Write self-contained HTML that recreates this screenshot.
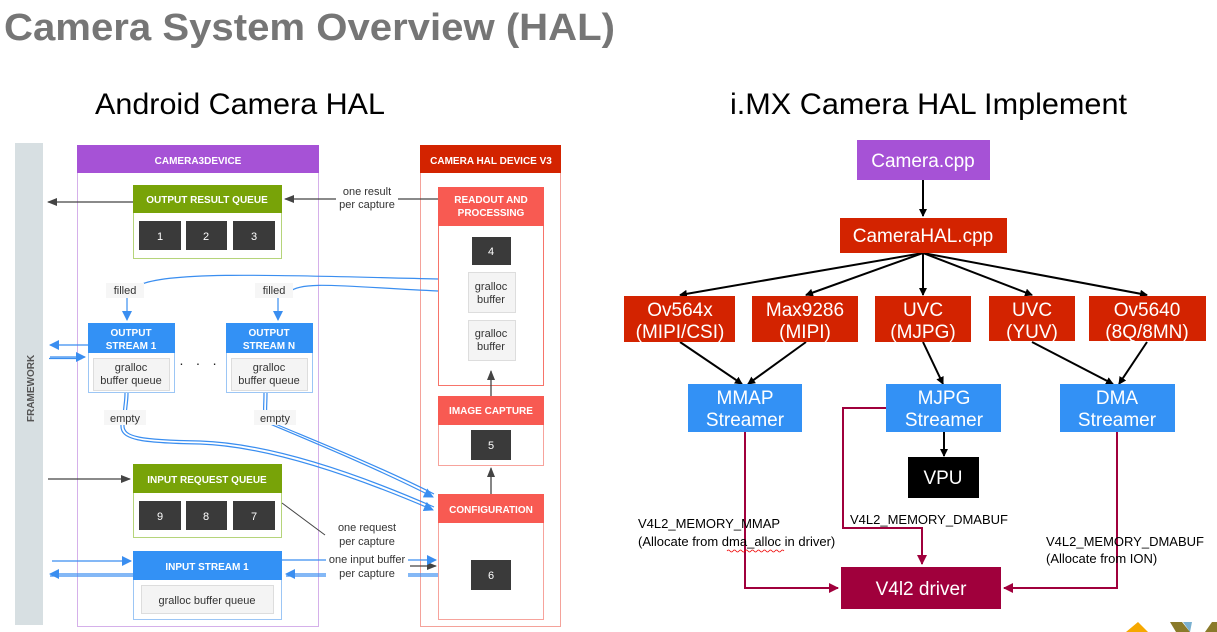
<!DOCTYPE html>
<html><head><meta charset="utf-8"><style>
html,body{margin:0;padding:0;background:#fff;}
svg{display:block;}
text{font-family:"Liberation Sans",sans-serif;}
</style></head><body>
<svg width="1217" height="632" viewBox="0 0 1217 632" xmlns="http://www.w3.org/2000/svg">
<defs>
<marker id="ak" markerWidth="8" markerHeight="8" refX="7" refY="4" orient="auto" markerUnits="userSpaceOnUse"><path d="M0,0 L8,4 L0,8 z" fill="#000"/></marker>
<marker id="ag" markerWidth="10" markerHeight="8" refX="9" refY="4" orient="auto" markerUnits="userSpaceOnUse"><path d="M0,0 L10,4 L0,8 z" fill="#444"/></marker>
<marker id="ab" markerWidth="10" markerHeight="10" refX="9" refY="5" orient="auto" markerUnits="userSpaceOnUse"><path d="M0,0 L10,5 L0,10 z" fill="#3a8ef0"/></marker>
<marker id="am" markerWidth="10" markerHeight="10" refX="9" refY="5" orient="auto" markerUnits="userSpaceOnUse"><path d="M0,0 L10,5 L0,10 z" fill="#a0003c"/></marker>
</defs>

<text x="4" y="40" font-size="38" font-weight="bold" fill="#767676" textLength="611" lengthAdjust="spacingAndGlyphs">Camera System Overview (HAL)</text>
<text x="95" y="114" font-size="30" fill="#000" textLength="290" lengthAdjust="spacingAndGlyphs">Android Camera HAL</text>
<text x="730" y="114" font-size="30" fill="#000" textLength="397" lengthAdjust="spacingAndGlyphs">i.MX Camera HAL Implement</text>

<!-- LEFT DIAGRAM -->
<rect x="15" y="143" width="28" height="482" fill="#d7dfe2"/>
<text transform="translate(34,422) rotate(-90)" font-size="10" font-weight="bold" fill="#555">FRAMEWORK</text>

<rect x="77.5" y="145.5" width="241" height="481" fill="none" stroke="#d5b0ea" stroke-width="1"/>
<rect x="77" y="145" width="242" height="28" fill="#a652d6"/>
<text x="198" y="164" font-size="10" font-weight="bold" fill="#fff" text-anchor="middle">CAMERA3DEVICE</text>

<rect x="420.5" y="145.5" width="140" height="481" fill="none" stroke="#f4a29a" stroke-width="1"/>
<rect x="420" y="145" width="141" height="28" fill="#d32300"/>
<text x="491" y="164" font-size="10" font-weight="bold" fill="#fff" text-anchor="middle">CAMERA HAL DEVICE V3</text>

<!-- Output result queue -->
<rect x="133.5" y="185.5" width="148" height="73" fill="#fff" stroke="#b5d47a"/>
<rect x="133" y="185" width="149" height="28" fill="#78a308"/>
<text x="207" y="203" font-size="10" font-weight="bold" fill="#fff" text-anchor="middle">OUTPUT RESULT QUEUE</text>
<rect x="139" y="221" width="42" height="29" fill="#3a3a3a"/><text x="160" y="240" font-size="11" fill="#fff" text-anchor="middle">1</text>
<rect x="186" y="221" width="41" height="29" fill="#3a3a3a"/><text x="206" y="240" font-size="11" fill="#fff" text-anchor="middle">2</text>
<rect x="233" y="221" width="42" height="29" fill="#3a3a3a"/><text x="254" y="240" font-size="11" fill="#fff" text-anchor="middle">3</text>

<!-- Readout -->
<rect x="438.5" y="187.5" width="105" height="198" fill="#fff" stroke="#f7746a"/>
<rect x="438" y="187" width="106" height="39" fill="#f85a52"/>
<text x="491" y="203" font-size="10" font-weight="bold" fill="#fff" text-anchor="middle">READOUT AND</text>
<text x="491" y="216" font-size="10" font-weight="bold" fill="#fff" text-anchor="middle">PROCESSING</text>
<rect x="472" y="237" width="39" height="28" fill="#3a3a3a"/><text x="491" y="255" font-size="11" fill="#fff" text-anchor="middle">4</text>
<rect x="468.5" y="272.5" width="47" height="40" fill="#f4f4f4" stroke="#ddd"/>
<text x="491" y="290" font-size="11" fill="#333" text-anchor="middle">gralloc</text><text x="491" y="303" font-size="11" fill="#333" text-anchor="middle">buffer</text>
<rect x="468.5" y="320.5" width="47" height="40" fill="#f4f4f4" stroke="#ddd"/>
<text x="491" y="337" font-size="11" fill="#333" text-anchor="middle">gralloc</text><text x="491" y="350" font-size="11" fill="#333" text-anchor="middle">buffer</text>

<!-- Image capture -->
<rect x="438.5" y="396.5" width="105" height="69" fill="#fff" stroke="#f7a39c"/>
<rect x="438" y="396" width="106" height="29" fill="#f85a52"/>
<text x="491" y="414" font-size="10" font-weight="bold" fill="#fff" text-anchor="middle">IMAGE CAPTURE</text>
<rect x="471" y="430" width="40" height="30" fill="#3a3a3a"/><text x="491" y="449" font-size="11" fill="#fff" text-anchor="middle">5</text>

<!-- Configuration -->
<rect x="438.5" y="494.5" width="105" height="125" fill="#fff" stroke="#f7a39c"/>
<rect x="438" y="494" width="106" height="29" fill="#f85a52"/>
<text x="491" y="513" font-size="10" font-weight="bold" fill="#fff" text-anchor="middle">CONFIGURATION</text>
<rect x="471" y="560" width="40" height="30" fill="#3a3a3a"/><text x="491" y="579" font-size="11" fill="#fff" text-anchor="middle">6</text>

<line x1="491" y1="494" x2="491" y2="468" stroke="#444" stroke-width="1.3" marker-end="url(#ag)"/>
<line x1="491" y1="396" x2="491" y2="371" stroke="#444" stroke-width="1.3" marker-end="url(#ag)"/>

<!-- Output streams -->
<rect x="88.5" y="323.5" width="86" height="69" fill="#fff" stroke="#9cc6f5"/>
<rect x="88" y="323" width="87" height="30" fill="#3391f5"/>
<text x="131" y="336" font-size="10" font-weight="bold" fill="#fff" text-anchor="middle">OUTPUT</text>
<text x="131" y="349" font-size="10" font-weight="bold" fill="#fff" text-anchor="middle">STREAM 1</text>
<rect x="93.5" y="358.5" width="76" height="32" fill="#f4f4f4" stroke="#ddd"/>
<text x="131" y="371" font-size="11" fill="#333" text-anchor="middle">gralloc</text><text x="131" y="384" font-size="11" fill="#333" text-anchor="middle">buffer queue</text>

<rect x="226.5" y="323.5" width="86" height="69" fill="#fff" stroke="#9cc6f5"/>
<rect x="226" y="323" width="87" height="30" fill="#3391f5"/>
<text x="269" y="336" font-size="10" font-weight="bold" fill="#fff" text-anchor="middle">OUTPUT</text>
<text x="269" y="349" font-size="10" font-weight="bold" fill="#fff" text-anchor="middle">STREAM N</text>
<rect x="231.5" y="358.5" width="76" height="32" fill="#f4f4f4" stroke="#ddd"/>
<text x="269" y="371" font-size="11" fill="#333" text-anchor="middle">gralloc</text><text x="269" y="384" font-size="11" fill="#333" text-anchor="middle">buffer queue</text>
<text x="200" y="368" font-size="14" fill="#222" text-anchor="middle" letter-spacing="4">· · ·</text>

<!-- Input request queue -->
<rect x="133.5" y="464.5" width="148" height="73" fill="#fff" stroke="#b5d47a"/>
<rect x="133" y="464" width="149" height="29" fill="#78a308"/>
<text x="207" y="483" font-size="10" font-weight="bold" fill="#fff" text-anchor="middle">INPUT REQUEST QUEUE</text>
<rect x="139" y="501" width="42" height="29" fill="#3a3a3a"/><text x="160" y="520" font-size="11" fill="#fff" text-anchor="middle">9</text>
<rect x="186" y="501" width="41" height="29" fill="#3a3a3a"/><text x="206" y="520" font-size="11" fill="#fff" text-anchor="middle">8</text>
<rect x="233" y="501" width="42" height="29" fill="#3a3a3a"/><text x="254" y="520" font-size="11" fill="#fff" text-anchor="middle">7</text>

<!-- Input stream -->
<rect x="133.5" y="551.5" width="148" height="68" fill="#fff" stroke="#9cc6f5"/>
<rect x="133" y="551" width="149" height="29" fill="#3391f5"/>
<text x="207" y="570" font-size="10" font-weight="bold" fill="#fff" text-anchor="middle">INPUT STREAM 1</text>
<rect x="141.5" y="585.5" width="132" height="28" fill="#f4f4f4" stroke="#ddd"/>
<text x="207" y="604" font-size="11" fill="#333" text-anchor="middle">gralloc buffer queue</text>

<!-- gray arrows -->
<line x1="133" y1="202" x2="48" y2="202" stroke="#444" stroke-width="1.3" marker-end="url(#ag)"/>
<line x1="438" y1="199" x2="285" y2="199" stroke="#444" stroke-width="1.3" marker-end="url(#ag)"/>
<rect x="336" y="183" width="62" height="28" fill="#fff"/>
<text x="367" y="195" font-size="11" fill="#333" text-anchor="middle">one result</text>
<text x="367" y="208" font-size="11" fill="#333" text-anchor="middle">per capture</text>
<line x1="48" y1="479" x2="130" y2="479" stroke="#444" stroke-width="1.3" marker-end="url(#ag)"/>
<line x1="282" y1="503" x2="325" y2="535" stroke="#444" stroke-width="1"/>
<line x1="410" y1="566" x2="436" y2="566" stroke="#444" stroke-width="1.3" marker-end="url(#ag)"/>
<rect x="326" y="519" width="82" height="28" fill="#fff"/>
<text x="367" y="531" font-size="11" fill="#333" text-anchor="middle">one request</text>
<text x="367" y="545" font-size="11" fill="#333" text-anchor="middle">per capture</text>

<!-- blue lines -->
<g fill="none" stroke="#3a8ef0" stroke-width="1.2">
<path d="M438 279 C300 276 170 270 140 285"/>
<path d="M438 291 C350 287 300 280 290 292"/>
<line x1="127" y1="298" x2="127" y2="320" marker-end="url(#ab)"/>
<line x1="278" y1="298" x2="278" y2="320" marker-end="url(#ab)"/>
<line x1="88" y1="345" x2="50" y2="345" marker-end="url(#ab)"/>
<path d="M50 357 H85" marker-end="url(#ab)"/>
<path d="M49 358.5 H82"/>
<path d="M125 393 C125 405 122 412 124 418"/><path d="M128 393 C128 405 125 412 127 418"/>
<path d="M264 393 C264 405 263 410 264 416"/><path d="M267 393 C267 405 266 410 267 416"/>
<path d="M121 425 C120 440 140 443 200 444 C260 446 340 470 433 510" marker-end="url(#ab)"/>
<path d="M124 425 C123 437 140 440 200 441 C260 443 340 466 434 507"/>
<path d="M270 424 C320 445 380 470 433 497" marker-end="url(#ab)"/>
<path d="M273 423 C323 444 383 468 434 494"/>
<line x1="52" y1="561" x2="131" y2="561" marker-end="url(#ab)"/>
<line x1="133" y1="574" x2="50" y2="574" marker-end="url(#ab)"/>
<path d="M50 576 H133"/>
<line x1="282" y1="560" x2="436" y2="560" marker-end="url(#ab)"/>
<line x1="438" y1="574" x2="286" y2="574" marker-end="url(#ab)"/>
<path d="M438 576 H286"/>
</g>
<rect x="106" y="283" width="38" height="15" fill="#f6f6f6"/>
<text x="125" y="294" font-size="11" fill="#333" text-anchor="middle">filled</text>
<rect x="255" y="283" width="38" height="15" fill="#f6f6f6"/>
<text x="274" y="294" font-size="11" fill="#333" text-anchor="middle">filled</text>
<rect x="104" y="410" width="42" height="15" fill="#f6f6f6"/>
<text x="125" y="422" font-size="11" fill="#333" text-anchor="middle">empty</text>
<rect x="254" y="410" width="42" height="15" fill="#f6f6f6"/>
<text x="275" y="422" font-size="11" fill="#333" text-anchor="middle">empty</text>
<rect x="326" y="551" width="82" height="28" fill="#fff"/>
<text x="367" y="563" font-size="11" fill="#333" text-anchor="middle">one input buffer</text>
<text x="367" y="577" font-size="11" fill="#333" text-anchor="middle">per capture</text>

<!-- RIGHT DIAGRAM -->
<g stroke="#000" stroke-width="2" fill="none">
<line x1="923" y1="180" x2="923" y2="216" marker-end="url(#ak)"/>
<line x1="923" y1="253" x2="680" y2="295" marker-end="url(#ak)"/>
<line x1="923" y1="253" x2="806" y2="295" marker-end="url(#ak)"/>
<line x1="923" y1="253" x2="923" y2="295" marker-end="url(#ak)"/>
<line x1="923" y1="253" x2="1032" y2="295" marker-end="url(#ak)"/>
<line x1="923" y1="253" x2="1147" y2="295" marker-end="url(#ak)"/>
<line x1="680" y1="342" x2="742" y2="384" marker-end="url(#ak)"/>
<line x1="806" y1="342" x2="748" y2="384" marker-end="url(#ak)"/>
<line x1="923" y1="342" x2="943" y2="384" marker-end="url(#ak)"/>
<line x1="1032" y1="342" x2="1113" y2="384" marker-end="url(#ak)"/>
<line x1="1147" y1="342" x2="1119" y2="384" marker-end="url(#ak)"/>
<line x1="944" y1="432" x2="944" y2="456" marker-end="url(#ak)"/>
</g>
<rect x="857" y="140" width="133" height="40" fill="#a652d6"/>
<text x="923" y="167" font-size="19" fill="#fff" text-anchor="middle">Camera.cpp</text>
<rect x="840" y="218" width="167" height="35" fill="#d32300"/>
<text x="923" y="242" font-size="19" fill="#fff" text-anchor="middle">CameraHAL.cpp</text>

<g fill="#d32300">
<rect x="624" y="296" width="111" height="46"/>
<rect x="752" y="296" width="106" height="46"/>
<rect x="875" y="296" width="96" height="46"/>
<rect x="989" y="296" width="86" height="45"/>
<rect x="1089" y="296" width="117" height="45"/>
</g>
<g fill="#fff" font-size="19" text-anchor="middle">
<text x="680" y="316">Ov564x</text><text x="680" y="338">(MIPI/CSI)</text>
<text x="805" y="316">Max9286</text><text x="805" y="338">(MIPI)</text>
<text x="923" y="316">UVC</text><text x="923" y="338">(MJPG)</text>
<text x="1032" y="316">UVC</text><text x="1032" y="338">(YUV)</text>
<text x="1147" y="316">Ov5640</text><text x="1147" y="338">(8Q/8MN)</text>
</g>
<g fill="#3391f5">
<rect x="688" y="384" width="114" height="48"/>
<rect x="886" y="384" width="115" height="48"/>
<rect x="1060" y="384" width="115" height="48"/>
</g>
<g fill="#fff" font-size="19" text-anchor="middle">
<text x="745" y="404">MMAP</text><text x="745" y="426">Streamer</text>
<text x="944" y="404">MJPG</text><text x="944" y="426">Streamer</text>
<text x="1117" y="404">DMA</text><text x="1117" y="426">Streamer</text>
</g>
<rect x="908" y="457" width="71" height="41" fill="#000"/>
<text x="943" y="484" font-size="19" fill="#fff" text-anchor="middle">VPU</text>

<g fill="none" stroke="#a0003c" stroke-width="2">
<path d="M745 432 V588 H838" marker-end="url(#am)"/>
<path d="M886 408 H843 V528 H922 V564" marker-end="url(#am)"/>
<path d="M1117 432 V588 H1004" marker-end="url(#am)"/>
</g>
<rect x="841" y="567" width="160" height="42" fill="#a0003c"/>
<text x="921" y="595" font-size="19" fill="#fff" text-anchor="middle">V4l2 driver</text>

<g font-size="13" fill="#000">
<text x="638" y="528">V4L2_MEMORY_MMAP</text>
<text x="638" y="546">(Allocate from dma_alloc in driver)</text>
<text x="850" y="524">V4L2_MEMORY_DMABUF</text>
<text x="1046" y="546">V4L2_MEMORY_DMABUF</text>
<text x="1046" y="563">(Allocate from ION)</text>
</g>
<path d="M727 551 q1.5 -2 3 0 t3 0 t3 0 t3 0 t3 0 t3 0 t3 0 t3 0 t3 0 t3 0 t3 0 t3 0 t3 0 t3 0 t3 0 t3 0 t3 0 t3 0 t3 0" fill="none" stroke="#e00" stroke-width="0.7"/>

<polygon points="1126,632 1138,622 1148,632" fill="#f6a800"/>
<polygon points="1170,622 1182,622 1190,632 1176,632" fill="#8a7a2a"/>
<polygon points="1183,622 1192,622 1190,632" fill="#7ab0d0"/>
<polygon points="1205,632 1212,622 1217,622 1217,632" fill="#8a7a2a"/>
</svg>
</body></html>
